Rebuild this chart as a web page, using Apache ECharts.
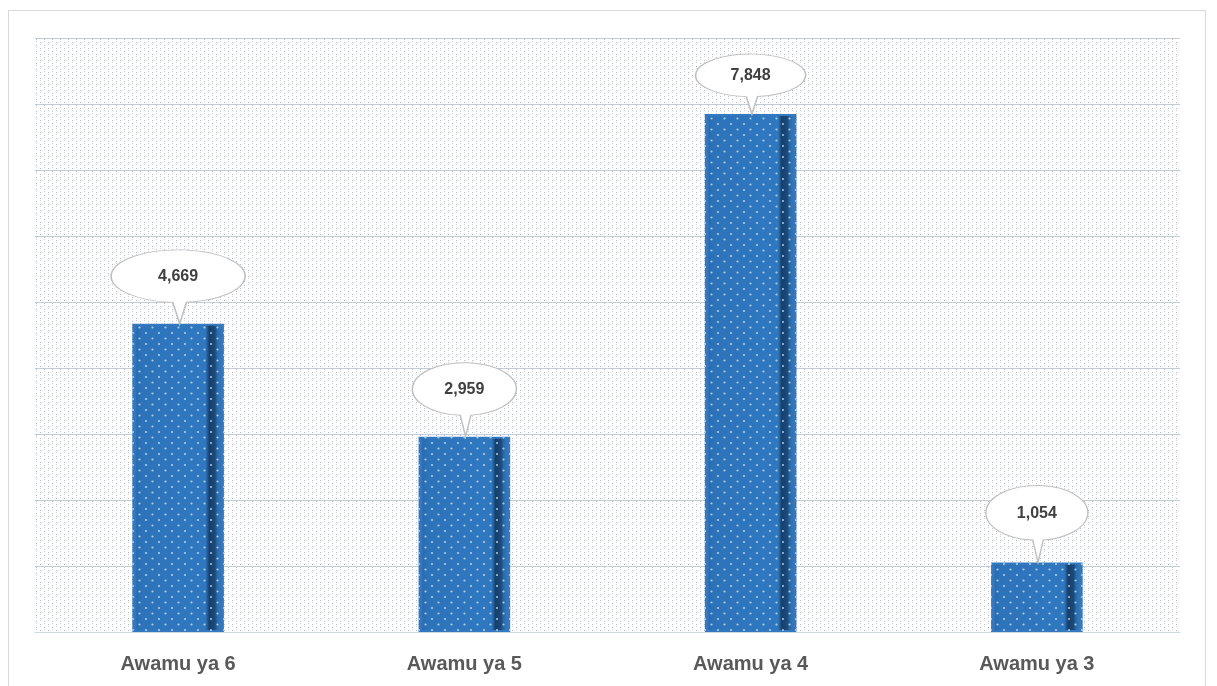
<!DOCTYPE html>
<html>
<head>
<meta charset="utf-8">
<script src="https://cdn.jsdelivr.net/npm/echarts@6/dist/echarts.min.js"></script>
<style>
html,body{margin:0;padding:0;background:#fff;}
#frame{position:absolute;left:8px;top:10px;width:1198px;height:690px;border:1px solid #d9d9d9;box-sizing:border-box;}
#chart{position:absolute;left:0;top:0;width:1217px;height:686px;}
</style>
</head>
<body>
<div id="frame"></div>
<div id="chart"></div>
<script>
var categories = ['Awamu ya 6', 'Awamu ya 5', 'Awamu ya 4', 'Awamu ya 3'];
var values = [4669, 2959, 7848, 1054];
var bubbleSizes = [[134, 74], [104, 74], [110, 60], [102, 77]];

function makePattern(w, h, draw) {
  var c = document.createElement('canvas');
  c.width = w; c.height = h;
  var ctx = c.getContext('2d');
  draw(ctx);
  return {image: c, repeat: 'repeat'};
}
var bgPattern = makePattern(8, 6, function (ctx) {
  ctx.fillStyle = '#ffffff'; ctx.fillRect(0, 0, 8, 6);
  ctx.fillStyle = 'rgba(130,145,160,0.6)';
  ctx.fillRect(0, 0, 1, 1);
  ctx.fillRect(4, 3, 1, 1);
  ctx.fillStyle = 'rgba(150,165,180,0.45)';
  ctx.fillRect(0, 2, 1, 1);
  ctx.fillRect(4, 5, 1, 1);
  ctx.fillStyle = 'rgba(170,185,200,0.3)';
  ctx.fillRect(2, 0, 1, 1);
});
var dotPattern = makePattern(13, 11, function (ctx) {
  ctx.clearRect(0, 0, 13, 11);
  ctx.fillStyle = 'rgba(215,232,250,0.75)';
  ctx.beginPath(); ctx.arc(3, 3, 1.1, 0, Math.PI * 2); ctx.fill();
  ctx.beginPath(); ctx.arc(9.5, 8.5, 1.1, 0, Math.PI * 2); ctx.fill();
});

var bubblePath = 'path://M46,42.9 A49,21 0 1,1 56,42.8 L51,60 Z';

var chart = echarts.init(document.getElementById('chart'));
chart.setOption({
  animation: false,
  grid: {left: 35, right: 37, top: 38, bottom: 54, show: true, backgroundColor: bgPattern, borderWidth: 0},
  xAxis: {
    type: 'category', data: categories,
    axisLine: {lineStyle: {color: '#d0d7de'}},
    axisTick: {show: false},
    axisLabel: {margin: 22, fontFamily: 'Liberation Sans, Arial', fontWeight: 'bold', fontSize: 20, color: '#595959'}
  },
  yAxis: {
    type: 'value', min: 0, max: 9000, interval: 1000,
    axisLabel: {show: false}, axisLine: {show: false}, axisTick: {show: false},
    splitLine: {lineStyle: {color: '#c3ccd6', width: 1}}
  },
  series: [{
    type: 'bar', data: values, barWidth: '32%',
    itemStyle: {
      color: new echarts.graphic.LinearGradient(0, 0, 1, 0, [
        {offset: 0, color: '#3f88d0'}, {offset: 0.05, color: '#2a6cb0'},
        {offset: 0.1, color: '#2d73ba'}, {offset: 0.8, color: '#2f78c0'},
        {offset: 0.84, color: '#173f6a'}, {offset: 0.9, color: '#1b4a7a'},
        {offset: 0.93, color: '#2b6cad'}, {offset: 1, color: '#3a80c4'}
      ]),
      borderColor: '#3479bf', borderWidth: 2
    },
    markPoint: {
      symbol: bubblePath,
      symbolKeepAspect: false,
      itemStyle: {color: '#ffffff', borderColor: '#bfbfbf', borderWidth: 1.2},
      label: {
        show: true, position: 'inside', fontFamily: 'Liberation Sans, Arial', fontWeight: 'bold',
        fontSize: 16, color: '#404040',
        formatter: function (p) { return p.value.toLocaleString('en-US'); }
      },
      data: values.map(function (v, i) {
        var s = bubbleSizes[i];
        return {
          coord: [categories[i], v], value: v,
          symbolSize: s, symbolOffset: [0, '-50%'],
          label: {offset: [0, -s[1] * 8 / 60]}
        };
      })
    }
  }, {
    type: 'bar', data: values, barWidth: '32%', barGap: '-100%', silent: true,
    itemStyle: {color: dotPattern}
  }]
});
</script>
</body>
</html>
